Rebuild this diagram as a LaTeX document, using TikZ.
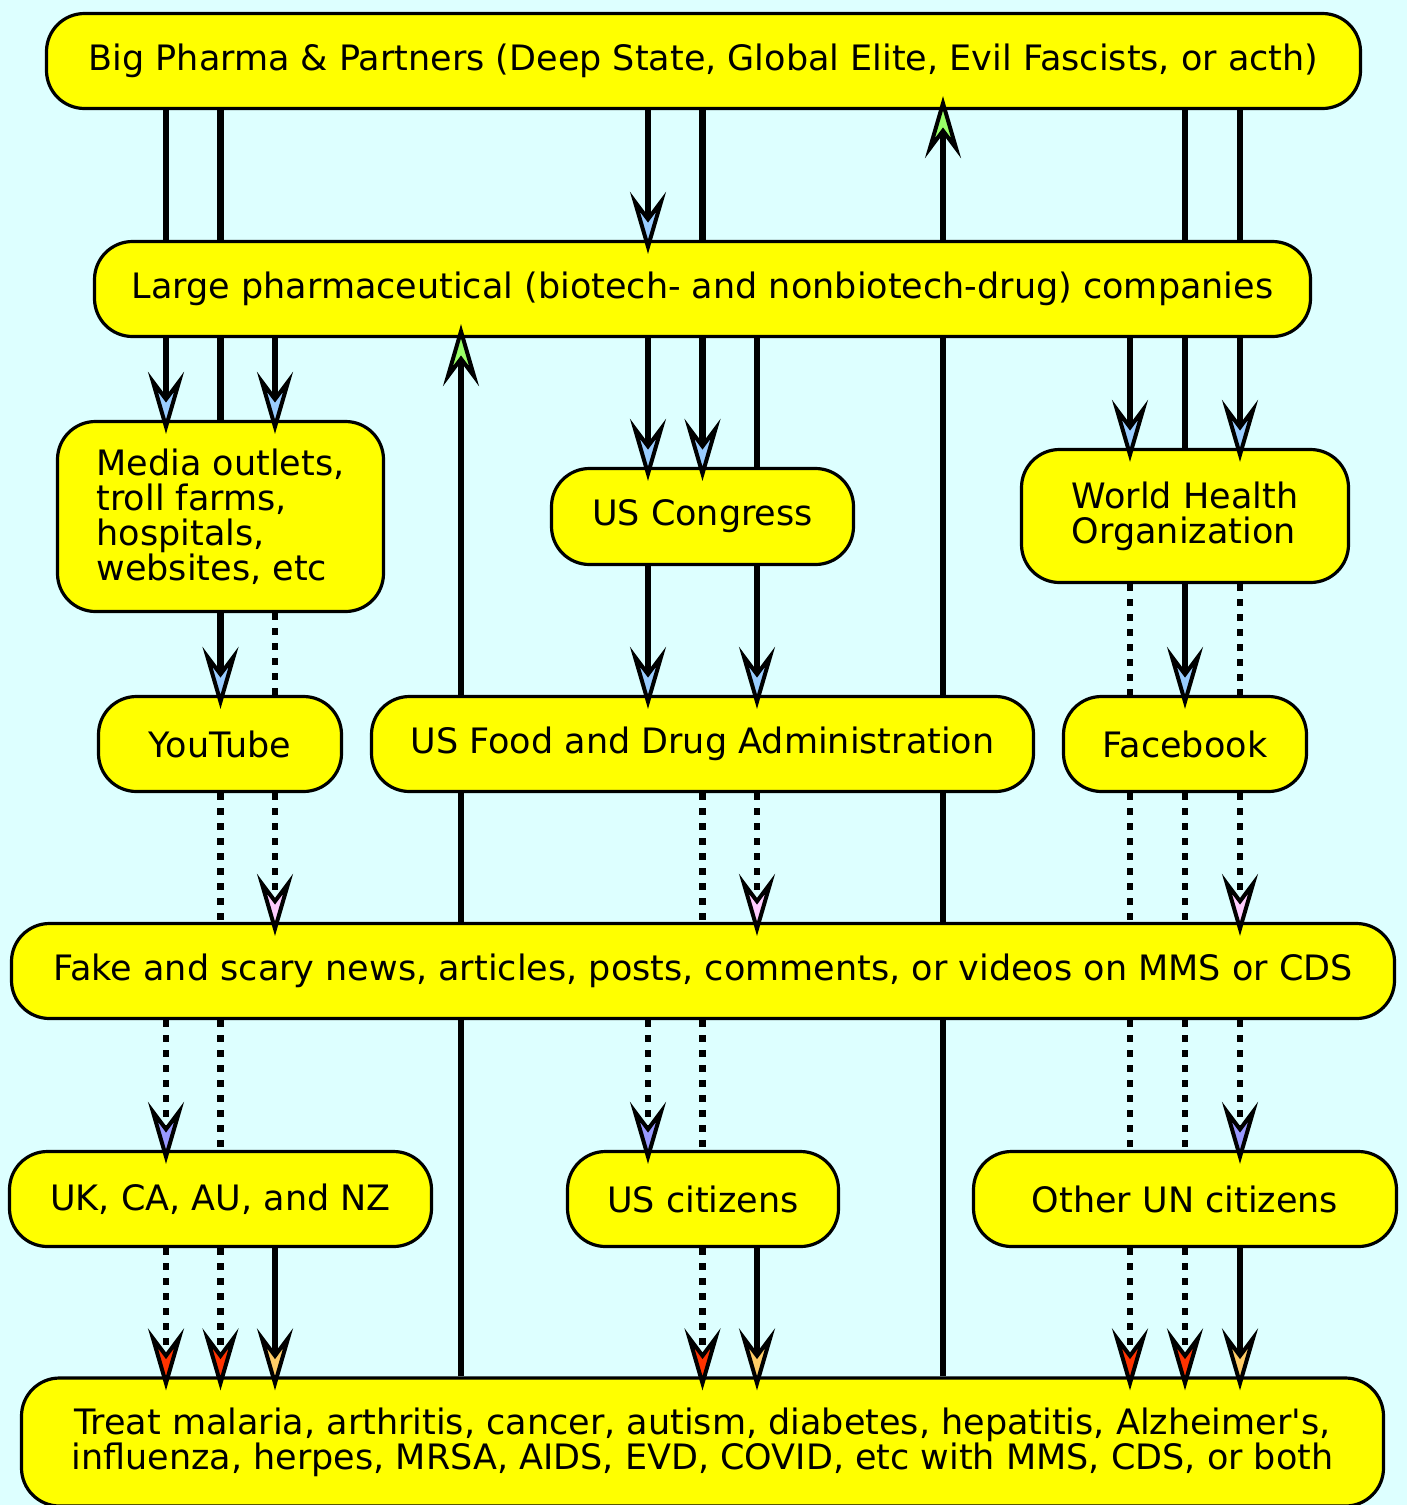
\documentclass[tikz,border=0pt]{standalone}
\usepackage{fontspec}
\setmainfont[Ligatures=TeXOff]{DejaVu Sans}
\usetikzlibrary{arrows.meta}
\definecolor{sky}{HTML}{DDFFFF}
\definecolor{tipblue}{HTML}{99CCFF}
\definecolor{tipgreen}{HTML}{99FF66}
\definecolor{tippink}{HTML}{FFCCFF}
\definecolor{tippurple}{HTML}{9999FF}
\definecolor{tipred}{HTML}{FF3300}
\definecolor{tiporange}{HTML}{FFCC66}
\definecolor{boxfill}{HTML}{FFFF00}
\pgfdeclarelayer{back}
\pgfdeclarelayer{wires}
\pgfsetlayers{back,wires,main}
\tikzset{ boks/.style={ rectangle, rounded corners=19pt, draw=black, line width=1.6pt, fill=boxfill, inner sep=0pt, font=\fontsize{17.5pt}{17.5pt}\selectfont}, pil/.style={ line width=3.2pt}, prikk/.style={ pil, dash pattern=on 3.4pt off 4.1pt}, spiss/.style={ -{Stealth[length=31pt,width=18pt,inset=12pt,line width=2pt,fill=#1]}, shorten >=-7pt}}

\begin{document}
\begin{tikzpicture}[x=0.5pt,y=-0.5pt]
    \useasboundingbox (0,0) rectangle (1407,1505);
    \begin{pgfonlayer}{back}
      \fill[sky] (0,0) rectangle (1407,1505);
    \end{pgfonlayer}
    %nodes
    \node[boks, minimum width=657pt, minimum height=47.5pt] (bp) at (703.5,61)
      {Big Pharma \& Partners (Deep State, Global Elite, Evil Fascists, or acth)};
    \node[boks, minimum width=608pt, minimum height=47.5pt] (lp) at (702.5,289)
      {Large pharmaceutical (biotech- and nonbiotech-drug) companies};
    \node[boks, align=left, minimum width=163pt, minimum height=95pt] (media) at (220.5,516.5)
      {Media outlets,\\troll farms,\\hospitals,\\websites, etc};
    \node[boks, minimum width=151pt, minimum height=48pt] (cong) at (702.5,516.5) {US Congress};
    \node[boks, align=left, minimum width=163.5pt, minimum height=66.5pt] (who) at (1185,516)
      {World Health\\Organization};
    \node[boks, minimum width=121.5pt, minimum height=47.5pt] (yt) at (220,744) {YouTube};
    \node[boks, minimum width=331pt, minimum height=47.5pt] (fda) at (702.5,744)
      {US Food and Drug Administration};
    \node[boks, minimum width=121.5pt, minimum height=47.5pt] (fb) at (1185,744) {Facebook};
    \node[boks, minimum width=691.5pt, minimum height=47.5pt] (fake) at (703,971)
      {Fake and scary news, articles, posts, comments, or videos on MMS or CDS};
    \node[boks, minimum width=211pt, minimum height=47.5pt] (uk) at (220.5,1199) {UK, CA, AU, and NZ};
    \node[boks, minimum width=135.5pt, minimum height=47.5pt] (usc) at (703,1199) {US citizens};
    \node[boks, minimum width=211.5pt, minimum height=47.5pt] (other) at (1185,1199) {Other UN citizens};
    \node[boks, align=center, minimum width=681pt, minimum height=64pt] (treat) at (702.5,1442)
      {Treat malaria, arthritis, cancer, autism, diabetes, hepatitis, Alzheimer's,\\
       influenza, herpes, MRSA, AIDS, EVD, COVID, etc with MMS, CDS, or both};
    % columns the wires run in
    \coordinate (la) at (166,0);
    \coordinate (lb) at (220.5,0);
    \coordinate (lc) at (275,0);
    \coordinate (ua) at (461,0);
    \coordinate (ma) at (648,0);
    \coordinate (mb) at (702.5,0);
    \coordinate (mc) at (757,0);
    \coordinate (ub) at (943,0);
    \coordinate (ra) at (1130,0);
    \coordinate (rb) at (1185,0);
    \coordinate (rc) at (1240,0);
    % bare wires, hidden behind the boxes
    \begin{pgfonlayer}{wires}
    \draw[pil] (bp.south -| la) -- (lp.north -| la);
    \draw[pil] (bp.south -| lb) -- (media.north -| lb);
    \draw[prikk] (yt.south -| lb) -- (fake.north -| lb);
    \draw[prikk] (fake.south -| lb) -- (uk.north -| lb);
    \draw[prikk] (media.south -| lc) -- (yt.north -| lc);
    \draw[pil] (treat.north -| ua) -- (fake.south -| ua);
    \draw[pil] (fake.north -| ua) -- (fda.south -| ua);
    \draw[pil] (bp.south -| mb) -- (lp.north -| mb);
    \draw[prikk] (fda.south -| mb) -- (fake.north -| mb);
    \draw[prikk] (fake.south -| mb) -- (usc.north -| mb);
    \draw[pil] (lp.south -| mc) -- (cong.north -| mc);
    \draw[pil] (treat.north -| ub) -- (fake.south -| ub);
    \draw[pil] (fake.north -| ub) -- (fda.south -| ub);
    \draw[pil] (fda.north -| ub) -- (lp.south -| ub);
    \draw[prikk] (who.south -| ra) -- (fb.north -| ra);
    \draw[prikk] (fb.south -| ra) -- (fake.north -| ra);
    \draw[prikk] (fake.south -| ra) -- (other.north -| ra);
    \draw[pil] (bp.south -| rb) -- (lp.north -| rb);
    \draw[pil] (lp.south -| rb) -- (who.north -| rb);
    \draw[prikk] (fb.south -| rb) -- (fake.north -| rb);
    \draw[prikk] (fake.south -| rb) -- (other.north -| rb);
    \draw[pil] (bp.south -| rc) -- (lp.north -| rc);
    \draw[prikk] (who.south -| rc) -- (fb.north -| rc);
    \end{pgfonlayer}
    % last legs, tips sit on top of the boxes
    \draw[pil,spiss=tipblue] (lp.south -| la) -- (media.north -| la);
    \draw[prikk,spiss=tippurple] (fake.south -| la) -- (uk.north -| la);
    \draw[prikk,spiss=tipred] (uk.south -| la) -- (treat.north -| la);
    \draw[pil,spiss=tipblue] (media.south -| lb) -- (yt.north -| lb);
    \draw[prikk,spiss=tipred] (uk.south -| lb) -- (treat.north -| lb);
    \draw[pil,spiss=tipblue] (lp.south -| lc) -- (media.north -| lc);
    \draw[prikk,spiss=tippink] (yt.south -| lc) -- (fake.north -| lc);
    \draw[pil,spiss=tiporange] (uk.south -| lc) -- (treat.north -| lc);
    \draw[pil,spiss=tipgreen] (fda.north -| ua) -- (lp.south -| ua);
    \draw[pil,spiss=tipblue] (bp.south -| ma) -- (lp.north -| ma);
    \draw[pil,spiss=tipblue] (lp.south -| ma) -- (cong.north -| ma);
    \draw[pil,spiss=tipblue] (cong.south -| ma) -- (fda.north -| ma);
    \draw[prikk,spiss=tippurple] (fake.south -| ma) -- (usc.north -| ma);
    \draw[pil,spiss=tipblue] (lp.south -| mb) -- (cong.north -| mb);
    \draw[prikk,spiss=tipred] (usc.south -| mb) -- (treat.north -| mb);
    \draw[pil,spiss=tipblue] (cong.south -| mc) -- (fda.north -| mc);
    \draw[prikk,spiss=tippink] (fda.south -| mc) -- (fake.north -| mc);
    \draw[pil,spiss=tiporange] (usc.south -| mc) -- (treat.north -| mc);
    \draw[pil,spiss=tipgreen] (lp.north -| ub) -- (bp.south -| ub);
    \draw[pil,spiss=tipblue] (lp.south -| ra) -- (who.north -| ra);
    \draw[prikk,spiss=tipred] (other.south -| ra) -- (treat.north -| ra);
    \draw[pil,spiss=tipblue] (who.south -| rb) -- (fb.north -| rb);
    \draw[prikk,spiss=tipred] (other.south -| rb) -- (treat.north -| rb);
    \draw[pil,spiss=tipblue] (lp.south -| rc) -- (who.north -| rc);
    \draw[prikk,spiss=tippink] (fb.south -| rc) -- (fake.north -| rc);
    \draw[prikk,spiss=tippurple] (fake.south -| rc) -- (other.north -| rc);
    \draw[pil,spiss=tiporange] (other.south -| rc) -- (treat.north -| rc);
\end{tikzpicture}
\end{document}
